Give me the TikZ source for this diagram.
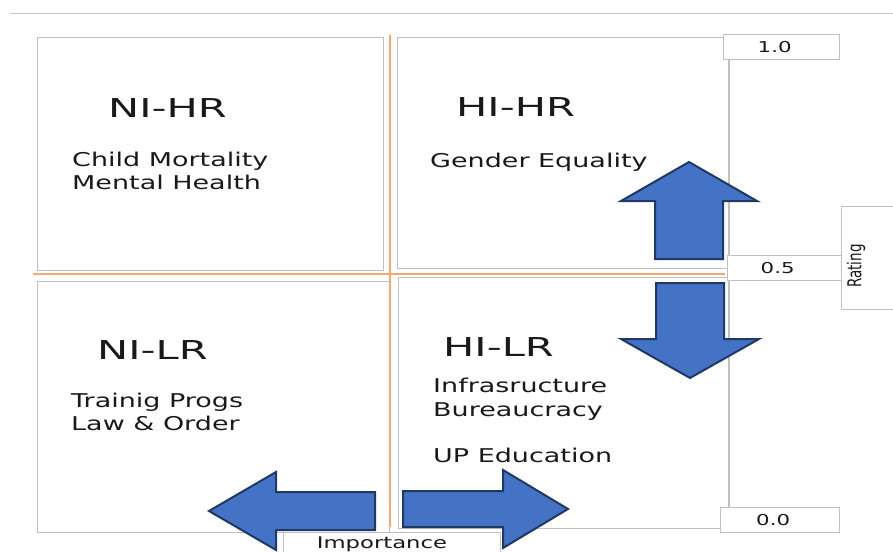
\documentclass[tikz,border=0pt]{standalone}
\usepackage{fontspec}
\setmainfont{DejaVu Sans}[FakeStretch=1.42]
\newfontfamily\headfont{DejaVu Sans}[FakeStretch=1.6]
\newfontfamily\plainfont{DejaVu Sans}
\definecolor{framegray}{RGB}{192,192,192}
\definecolor{rulegray}{RGB}{200,200,200}
\definecolor{guide}{RGB}{244,168,118}
\definecolor{arrowfill}{RGB}{68,114,196}
\definecolor{arrowline}{RGB}{31,56,100}
\definecolor{ink}{RGB}{25,25,25}
\begin{document}
\begin{tikzpicture}[x=1pt,y=-1pt,
  quad/.style={draw=framegray, line width=1.3pt, inner sep=0pt, anchor=north west},
  tag/.style={draw=framegray, fill=white, line width=1.3pt, inner sep=0pt, anchor=north west},
  tagtext/.style={inner sep=0pt, text=ink, font=\fontsize{15}{15}\selectfont},
  heading/.style={anchor=base west, inner sep=0pt, text=ink, font=\headfont\fontsize{26}{26}\selectfont},
  item/.style={anchor=base west, inner sep=0pt, text=ink, font=\fontsize{19}{19}\selectfont},
  block/.style={fill=arrowfill, draw=arrowline, line width=2pt, line join=miter},
  guideline/.style={draw=guide, line width=1.8pt}]
\useasboundingbox (0,0) rectangle (893,551);
\clip (0,0) rectangle (893,551);

% top rule
\draw[rulegray, line width=1pt] (10,14) -- (893,14);

% quadrant frames
\node[quad, minimum width=346pt, minimum height=233pt] (nihr) at (37,37) {};
\node[quad, minimum width=332pt, minimum height=231pt] (hihr) at (397,37) {};
\node[quad, minimum width=352pt, minimum height=251pt] (nilr) at (37,281) {};
\node[quad, minimum width=331pt, minimum height=251pt] (hilr) at (398,277) {};

% orange dividing guides
\coordinate (gtop) at (390,35);
\coordinate (gbot) at (390,527);
\coordinate (gleft) at (33,274);
\coordinate (gright) at (725,274);
\draw[guideline] (gtop) -- (gbot);
\draw[guideline] (gleft) -- (gright);

% rating axis with scale tags
\coordinate (axtop) at (729,59);
\coordinate (axbot) at (729,507);
\draw[framegray, line width=1.3pt] (axtop) -- (axbot);
\node[tag, minimum width=116pt, minimum height=25pt] (one) at (723,34) {};
\node[tag, minimum width=114pt, minimum height=25pt] (half) at (727,255) {};
\node[tag, minimum width=119pt, minimum height=25pt] (zero) at (720,507) {};
\node[tagtext] (onetext) at ([xshift=-7pt]one.center) {1.0};
\node[tagtext] (halftext) at ([xshift=-7pt]half.center) {0.5};
\node[tagtext] (zerotext) at ([xshift=-7pt]zero.center) {0.0};
\node[tag, minimum width=60pt, minimum height=103pt] (ratingbox) at (841,206) {};
\node[inner sep=0pt, text=ink] (rating) at (856,266)
  {\scalebox{1.42}[1]{\rotatebox{90}{\plainfont\fontsize{13.5}{13.5}\selectfont Rating}}};

% importance tag
\node[tag, minimum width=217pt, minimum height=30pt] (impbox) at (283,532) {};
\node[anchor=base, inner sep=0pt, text=ink, font=\fontsize{16}{16}\selectfont] (imp) at (382,548) {Importance};

% quadrant texts
\node[heading] (t1) at (108,117) {NI-HR};
\node[item] (a1) at (72,166) {Child Mortality};
\node[item] (a2) at (72,189) {Mental Health};

\node[heading] (t2) at (456,116) {HI-HR};
\node[item] (b1) at (430,167) {Gender Equality};

\node[heading] (t3) at (97,359) {NI-LR};
\node[item] (c1) at (71,407) {Trainig Progs};
\node[item] (c2) at (71,430) {Law \& Order};

\node[heading] (t4) at (443,356) {HI-LR};
\node[item] (d1) at (433,392) {Infrasructure};
\node[item] (d2) at (433,416) {Bureaucracy};
\node[item] (d3) at (433,462) {UP Education};

% block arrows
\draw[block] (689,162) -- (757,201) -- (723,201) -- (723,259) -- (655,259) -- (655,201) -- (621,201) -- cycle;
\draw[block] (690,378) -- (759,339) -- (724,339) -- (724,283) -- (656,283) -- (656,339) -- (621,339) -- cycle;
\draw[block] (209,511) -- (276,472) -- (276,492) -- (375,492) -- (375,530) -- (276,530) -- (276,550) -- cycle;
\draw[block] (568,509) -- (503,470) -- (503,491) -- (403,491) -- (403,527) -- (503,527) -- (503,548) -- cycle;
\end{tikzpicture}
\end{document}
